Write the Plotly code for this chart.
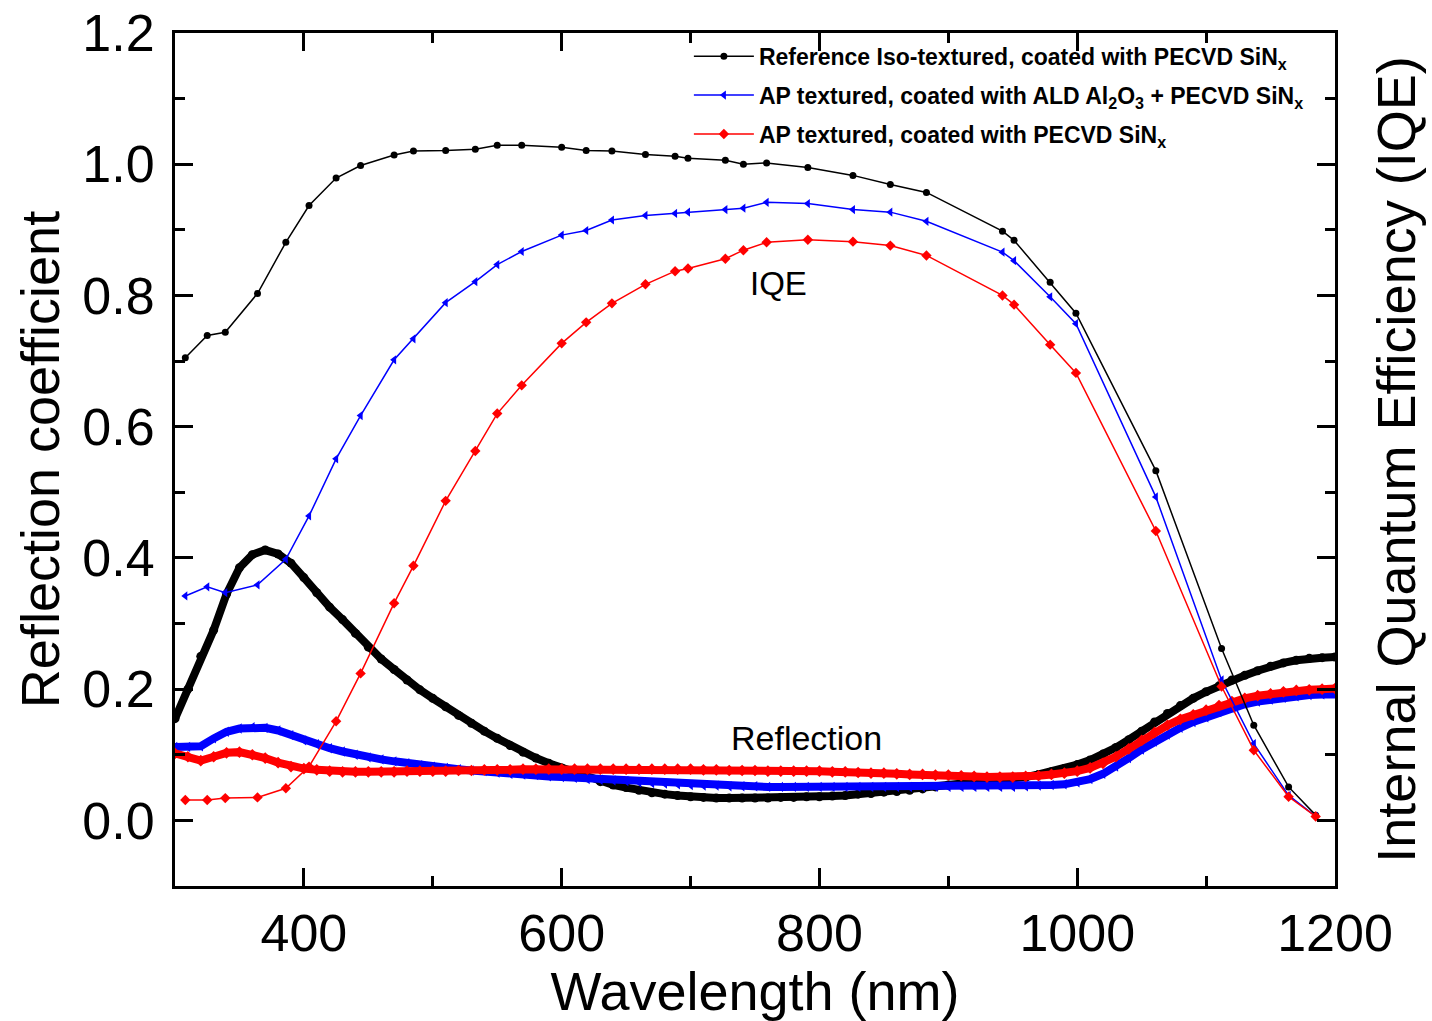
import plotly.graph_objects as go

# ---------------- data ----------------
refl_wl = list(range(300, 1201, 10))

refl_ref = [0.155, 0.200, 0.250, 0.290, 0.345, 0.385, 0.405, 0.412, 0.406, 0.392,
            0.370, 0.347, 0.325, 0.306, 0.285, 0.264, 0.246, 0.230, 0.214, 0.199,
            0.186, 0.173, 0.160, 0.148, 0.136, 0.125, 0.114, 0.104, 0.095, 0.087,
            0.080, 0.072, 0.065, 0.059, 0.054, 0.050, 0.046, 0.042, 0.040, 0.038,
            0.036, 0.035, 0.034, 0.034, 0.034, 0.034, 0.034, 0.035, 0.035, 0.036,
            0.036, 0.037, 0.038, 0.040, 0.041, 0.043, 0.044, 0.046, 0.048, 0.051,
            0.054, 0.056, 0.058, 0.058, 0.059, 0.062, 0.066, 0.070, 0.074, 0.079,
            0.085, 0.092, 0.101, 0.111, 0.123, 0.136, 0.150, 0.163, 0.175, 0.186,
            0.196, 0.205, 0.214, 0.221, 0.228, 0.235, 0.240, 0.244, 0.247, 0.248,
            0.249]

refl_ald = [0.112, 0.112, 0.113, 0.125, 0.135, 0.140, 0.142, 0.141, 0.137, 0.130,
            0.122, 0.116, 0.110, 0.105, 0.100, 0.096, 0.093, 0.090, 0.087, 0.084,
            0.082, 0.080, 0.078, 0.076, 0.075, 0.073, 0.071, 0.070, 0.069, 0.067,
            0.066, 0.065, 0.063, 0.062, 0.061, 0.060, 0.058, 0.057, 0.056, 0.055,
            0.054, 0.053, 0.053, 0.052, 0.052, 0.052, 0.051, 0.051, 0.051, 0.051,
            0.051, 0.051, 0.051, 0.051, 0.051, 0.051, 0.051, 0.051, 0.051, 0.051,
            0.051, 0.051, 0.051, 0.051, 0.051, 0.051, 0.052, 0.053, 0.054, 0.055,
            0.058, 0.063, 0.071, 0.082, 0.095, 0.108, 0.120, 0.131, 0.141, 0.150,
            0.157, 0.165, 0.172, 0.177, 0.181, 0.184, 0.187, 0.189, 0.191, 0.192,
            0.192]

refl_sin = [0.102, 0.097, 0.091, 0.097, 0.103, 0.104, 0.100, 0.095, 0.088, 0.082,
            0.079, 0.077, 0.075, 0.074, 0.074, 0.074, 0.074, 0.074, 0.075, 0.075,
            0.075, 0.075, 0.076, 0.076, 0.077, 0.077, 0.077, 0.078, 0.078, 0.078,
            0.078, 0.078, 0.078, 0.078, 0.078, 0.078, 0.078, 0.078, 0.078, 0.078,
            0.078, 0.077, 0.077, 0.076, 0.076, 0.076, 0.075, 0.075, 0.075, 0.075,
            0.075, 0.074, 0.074, 0.073, 0.072, 0.072, 0.071, 0.070, 0.070, 0.069,
            0.069, 0.068, 0.067, 0.066, 0.066, 0.066, 0.067, 0.068, 0.070, 0.072,
            0.075, 0.080, 0.087, 0.097, 0.109, 0.122, 0.134, 0.145, 0.154, 0.161,
            0.168, 0.175, 0.181, 0.186, 0.190, 0.193, 0.196, 0.198, 0.199, 0.200,
            0.201]

iqe_wl = [308, 325, 339, 364, 386, 404, 425, 444, 470, 485, 510, 533, 550, 569,
          600, 619, 639, 665, 688, 698, 727, 741, 759, 791, 826, 855, 883, 942,
          951, 979, 999, 1061, 1112, 1137, 1164, 1185]

iqe_ref = [0.705, 0.739, 0.744, 0.803, 0.881, 0.937, 0.979, 0.998, 1.014, 1.020,
           1.021, 1.023, 1.029, 1.029, 1.026, 1.021, 1.020, 1.015, 1.012, 1.009,
           1.006, 1.000, 1.002, 0.995, 0.983, 0.969, 0.957, 0.898, 0.884, 0.820,
           0.773, 0.533, 0.262, 0.145, 0.051, 0.008]

iqe_ald = [0.342, 0.356, 0.347, 0.359, 0.398, 0.464, 0.551, 0.617, 0.702, 0.734,
           0.789, 0.821, 0.847, 0.867, 0.892, 0.899, 0.915, 0.922, 0.925, 0.927,
           0.931, 0.933, 0.942, 0.940, 0.931, 0.927, 0.913, 0.866, 0.853, 0.798,
           0.757, 0.493, 0.214, 0.117, 0.038, 0.006]

iqe_sin = [0.031, 0.031, 0.034, 0.035, 0.049, 0.082, 0.151, 0.224, 0.331, 0.388,
           0.487, 0.563, 0.620, 0.663, 0.727, 0.759, 0.788, 0.817, 0.837, 0.841,
           0.856, 0.869, 0.881, 0.885, 0.882, 0.876, 0.861, 0.800, 0.786, 0.725,
           0.682, 0.441, 0.204, 0.107, 0.036, 0.006]

names = ["Reference Iso-textured, coated with PECVD SiN<sub>x</sub>",
         "AP textured, coated with ALD Al<sub>2</sub>O<sub>3</sub> + PECVD SiN<sub>x</sub>",
         "AP textured, coated with PECVD SiN<sub>x</sub>"]

FONT = "Arial, Liberation Sans, sans-serif"

fig = go.Figure()

# reflection curves (dense markers -> thick line + markers)
for vals, col, sym in [(refl_ref, "black", "circle"),
                       (refl_ald, "blue", "triangle-left"),
                       (refl_sin, "red", "diamond")]:
    fig.add_trace(go.Scatter(x=refl_wl, y=vals, mode="lines+markers",
                             line=dict(color=col, width=8),
                             marker=dict(color=col, size=9, symbol=sym),
                             showlegend=False, hoverinfo="skip"))

# IQE curves
for i, (vals, col, sym, ms) in enumerate([(iqe_ref, "black", "circle", 7),
                                          (iqe_ald, "blue", "triangle-left", 8),
                                          (iqe_sin, "red", "diamond", 8)]):
    fig.add_trace(go.Scatter(x=iqe_wl, y=vals, mode="lines+markers", name=names[i],
                             line=dict(color=col, width=1.5),
                             marker=dict(color=col, size=ms, symbol=sym),
                             legendgroup=f"g{i}", yaxis="y2"))

axis_common = dict(showline=True, linecolor="black", linewidth=3,
                   ticks="inside", ticklen=18, tickwidth=3, tickcolor="black",
                   showgrid=False, zeroline=False, automargin=False,
                   tickfont=dict(family=FONT, size=52, color="black"))

fig.update_layout(
    width=1432, height=1021,
    margin=dict(l=175, r=97, t=33, b=135),
    paper_bgcolor="white", plot_bgcolor="white",
    font=dict(family=FONT, color="black"),
    xaxis=dict(range=[300, 1200], dtick=200, tick0=0, mirror="ticks",
               minor=dict(ticks="inside", ticklen=10, tickwidth=3, dtick=100, tickcolor="black"),
               ticklabelstandoff=0,
               title=dict(text="Wavelength (nm)", font=dict(family=FONT, size=54), standoff=4),
               **axis_common),
    yaxis=dict(range=[-0.1, 1.2], dtick=0.2, tick0=0, tickformat=".1f", mirror="ticks",
               minor=dict(ticks="inside", ticklen=10, tickwidth=3, dtick=0.1, tickcolor="black"),
               ticklabelstandoff=7,
               title=dict(text="Reflection coefficient", font=dict(family=FONT, size=54), standoff=6),
               **axis_common),
    yaxis2=dict(range=[-0.1, 1.2], overlaying="y", side="right", showticklabels=False,
                ticks="", showline=False, showgrid=False, zeroline=False, automargin=False,
                title=dict(text="Internal Quantum Efficiency (IQE)",
                           font=dict(family=FONT, size=54), standoff=42)),
    legend=dict(x=0.443, y=0.998, xanchor="left", yanchor="top",
                bgcolor="rgba(0,0,0,0)", borderwidth=0,
                font=dict(family=FONT, size=23, color="black", weight="bold"),
                tracegroupgap=6, itemwidth=60),
    annotations=[
        dict(x=768, y=0.818, xref="x", yref="y", text="IQE", showarrow=False,
             font=dict(family=FONT, size=33, color="black")),
        dict(x=790, y=0.125, xref="x", yref="y", text="Reflection", showarrow=False,
             font=dict(family=FONT, size=34, color="black")),
    ],
)

fig.write_html("out.html")
